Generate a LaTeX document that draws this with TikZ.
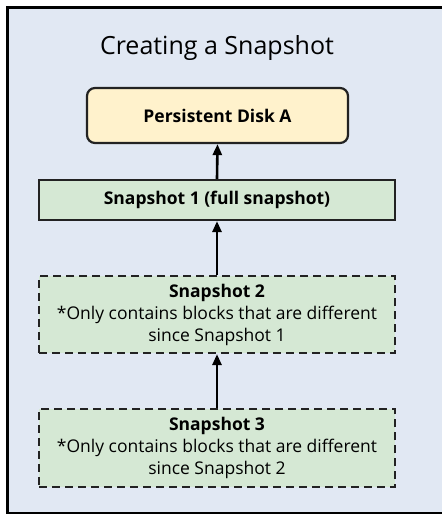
\documentclass[tikz,border=0pt]{standalone}
\usepackage{fontspec}
\setmainfont{Open Sans}
\usetikzlibrary{arrows.meta}
\definecolor{bgc}{HTML}{E1E8F3}
\definecolor{diskc}{HTML}{FFF2CC}
\definecolor{snapc}{HTML}{D5E8D4}
\definecolor{linec}{HTML}{222222}
\tikzset{
  boxbase/.style={draw=linec, line width=2.2pt, minimum width=356pt, align=center, inner sep=0pt},
  diskbox/.style={draw=linec, line width=2.2pt, fill=diskc, rounded corners=8pt, minimum width=261pt, minimum height=55pt, font=\fontsize{17.5}{20}\selectfont\bfseries},
  fullbox/.style={boxbase, fill=snapc, minimum height=40pt, font=\fontsize{17.5}{20}\selectfont\bfseries},
  incbox/.style={boxbase, fill=snapc, dashed, dash pattern=on 8pt off 5pt, font=\fontsize{17.5}{22}\selectfont},
  conn/.style={line width=2.6pt, -{Triangle[length=11pt,width=9pt]}}
}
\begin{document}
\begin{tikzpicture}[x=1pt,y=-1pt]
\useasboundingbox (0,0) rectangle (442,515);
\clip (0,0) rectangle (442,515);
\draw[line width=2.6pt, fill=bgc] (7.3,7.6) rectangle (460,513);
\node[font=\fontsize{25}{30}\selectfont] (title) at (217,48) {Creating a Snapshot};
\node[diskbox] (disk) at (217.5,115.5) {Persistent Disk A};
\node[fullbox] (s1) at (217,200) {Snapshot 1 (full snapshot)};
\node[incbox, minimum height=77pt] (s2) at (217,314.5) {\textbf{Snapshot 2}\\*Only contains blocks that are different\\since Snapshot 1};
\node[incbox, minimum height=78pt] (s3) at (217,448) {\textbf{Snapshot 3}\\*Only contains blocks that are different\\since Snapshot 2};
\draw[conn] (s1.north) -- (disk.south);
\draw[conn] (s2.north) -- (s1.south);
\draw[conn] (s3.north) -- (s2.south);
\end{tikzpicture}
\end{document}
